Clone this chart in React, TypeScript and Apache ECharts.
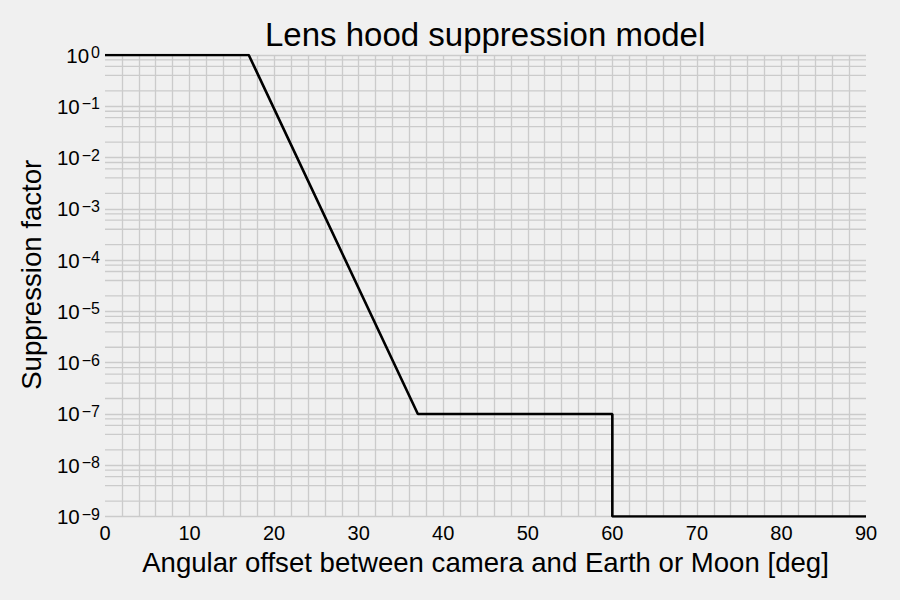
import React, { useEffect, useRef } from "react";
import * as echarts from "echarts";

// Model breakpoints
const angleDeg = [0, 17, 37, 60, 60, 90];
const suppression = [1, 1, 1e-7, 1e-7, 1e-9, 1e-9];

// Axis setup
const xMin = 0;
const xMax = 90;
const xInterval = 10;
const yMin = 1e-9;
const yMax = 1;

// Minor (log) grid: sub-multiples shown in each decade
const minorSubs = [2, 4, 6, 8];
const minorDecadeExponents = [-9, -8, -7, -6, -5, -4, -3, -2, -1];

const titleText = "Lens hood suppression model";
const xName = "Angular offset between camera and Earth or Moon [deg]";
const yName = "Suppression factor";

const FONT = "'Liberation Sans', Arial, Helvetica, sans-serif";
const GRID_COLOR = "#cbcbcb";

export default function App() {
  const ref = useRef<HTMLDivElement | null>(null);

  useEffect(() => {
    document.body.style.margin = "0";
    if (!ref.current) return;
    const chart = echarts.init(ref.current, undefined, { renderer: "svg" });

    const minorValues: number[] = [];
    minorDecadeExponents.forEach((e) => {
      minorSubs.forEach((s) => minorValues.push(s * Math.pow(10, e)));
    });

    const minorSeries = minorValues.map((v) => ({
      type: "line",
      data: [
        [xMin, v],
        [xMax, v],
      ],
      showSymbol: false,
      symbol: "none",
      silent: true,
      z: 1,
      lineStyle: { color: GRID_COLOR, width: 1.3 },
      emphasis: { disabled: true },
    }));

    const lineData = angleDeg.map((x, i) => [x, suppression[i]]);

    const supLabel = (v: number) => {
      const e = Math.round(Math.log10(v));
      const s = e < 0 ? "\u2212" + String(-e) : String(e);
      return "{b|10}{s|" + s + "}";
    };

    chart.setOption({
      animation: false,
      backgroundColor: "#f0f0f0",
      textStyle: { fontFamily: FONT, color: "#000" },
      title: {
        text: titleText,
        left: 260,
        top: 13,
        textStyle: { fontFamily: FONT, fontSize: 33, fontWeight: "normal", color: "#000" },
      },
      grid: { left: 105, right: 34, top: 55, bottom: 83.5, containLabel: false },
      xAxis: {
        type: "value",
        min: xMin,
        max: xMax,
        interval: xInterval,
        name: xName,
        nameLocation: "middle",
        nameGap: 32,
        nameTextStyle: { fontFamily: FONT, fontSize: 27.6, color: "#000" },
        axisLine: { show: false },
        axisTick: { show: false },
        axisLabel: { fontFamily: FONT, fontSize: 20, color: "#000", margin: 6 },
        splitLine: {
          show: true,
          showMinLine: false,
          showMaxLine: false,
          lineStyle: { color: GRID_COLOR, width: 1.3 },
        },
        minorTick: { show: false, splitNumber: 5 },
        minorSplitLine: { show: true, lineStyle: { color: GRID_COLOR, width: 1.3 } },
      },
      yAxis: {
        type: "log",
        logBase: 10,
        min: yMin,
        max: yMax,
        splitNumber: 9,
        name: yName,
        nameLocation: "middle",
        nameGap: 60,
        nameTextStyle: { fontFamily: FONT, fontSize: 27.6, color: "#000", padding: [0, 0, 0, 22] },
        axisLine: { show: false },
        axisTick: { show: false },
        axisLabel: {
          margin: 5,
          formatter: supLabel,
          rich: {
            b: { fontFamily: FONT, fontSize: 20.5, color: "#000" },
            s: { fontFamily: FONT, fontSize: 16, color: "#000", verticalAlign: "top", padding: [0, 0, 0, 2] },
          },
        },
        splitLine: { show: true, lineStyle: { color: GRID_COLOR, width: 1.3 } },
      },
      series: [
        ...minorSeries,
        {
          type: "line",
          name: "suppression",
          data: lineData,
          showSymbol: false,
          symbol: "none",
          z: 5,
          silent: true,
          lineStyle: { color: "#000", width: 2.6 },
          emphasis: { disabled: true },
        },
      ],
    });

    return () => chart.dispose();
  }, []);

  return (
    <div
      ref={ref}
      style={{ position: "fixed", left: 0, top: 0, width: 900, height: 600 }}
    />
  );
}
